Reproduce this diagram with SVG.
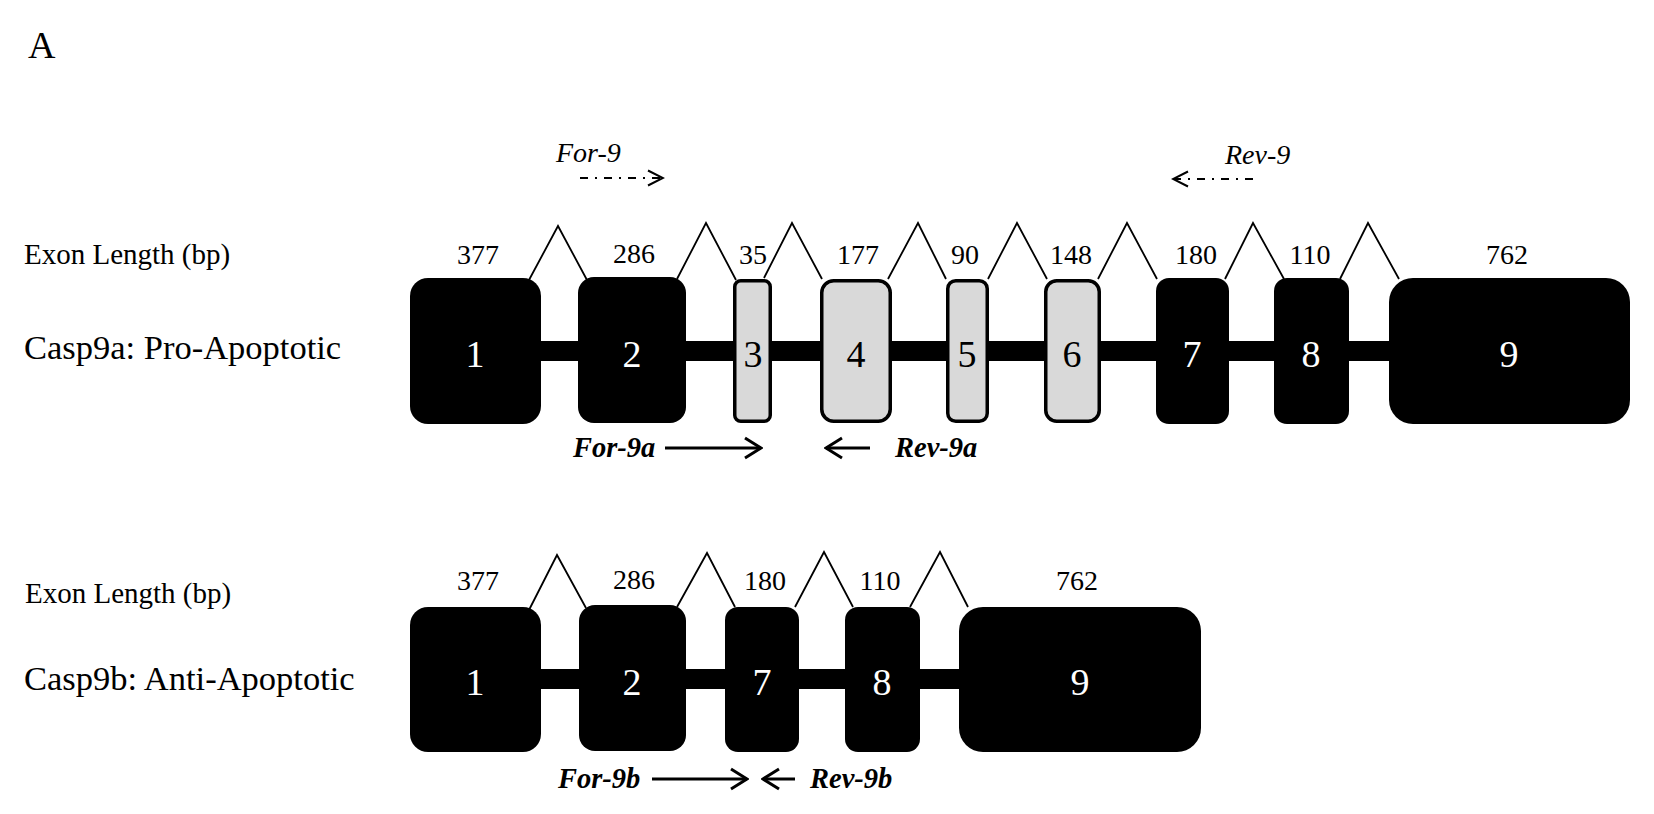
<svg xmlns="http://www.w3.org/2000/svg" width="1654" height="814" viewBox="0 0 1654 814">
<style>
text { font-family: "Liberation Serif", "Times New Roman", serif; fill: #000; }
.title { font-size: 38px; }
.rowlbl { font-size: 34.5px; }
.exlen { font-size: 29px; }
.len { font-size: 28px; text-anchor: middle; }
.num { font-size: 38px; text-anchor: middle; }
.w { fill: #fff; }
.ex { fill: #000; }
.gx { fill: #d9d9d9; stroke: #000; stroke-width: 3.5; }
.bar { fill: #000; }
.caret { fill: none; stroke: #000; stroke-width: 1.8; stroke-linejoin: miter; }
.pri { font-size: 28px; font-style: italic; }
.prb { font-size: 28.5px; font-style: italic; font-weight: bold; }
.solid { fill: none; stroke: #000; stroke-width: 3; }
.dashdot { fill: none; stroke: #000; stroke-width: 2; stroke-dasharray: 8 7 2 7; }
</style>
<defs>
<marker id="chevS" viewBox="0 0 20 24" refX="18" refY="12" markerWidth="20" markerHeight="24" markerUnits="userSpaceOnUse" orient="auto">
<path d="M2,2 L18,12 L2,22" fill="none" stroke="#000" stroke-width="3" stroke-dasharray="none"/>
</marker>
<marker id="chevD" viewBox="0 0 18 18" refX="16" refY="9" markerWidth="18" markerHeight="18" markerUnits="userSpaceOnUse" orient="auto">
<path d="M1,1.5 L16,9 L1,16.5" fill="none" stroke="#000" stroke-width="2" stroke-dasharray="none"/>
</marker>
</defs>
<rect width="1654" height="814" fill="#fff"/>
<text class="title" x="28" y="58">A</text>

<!-- Row 1 labels -->
<g id="row1-labels">
<text class="exlen" x="24" y="264">Exon Length (bp)</text>
<text class="rowlbl" x="24" y="359">Casp9a: Pro-Apoptotic</text>
<text class="len" x="478" y="264">377</text>
<text class="len" x="634" y="263">286</text>
<text class="len" x="753" y="264">35</text>
<text class="len" x="858" y="264">177</text>
<text class="len" x="965" y="264">90</text>
<text class="len" x="1071" y="264">148</text>
<text class="len" x="1196" y="264">180</text>
<text class="len" x="1310" y="264">110</text>
<text class="len" x="1507" y="264">762</text>
</g>

<!-- Connectors: introns, splice carets, primers -->
<g id="connectors">
<rect class="bar" x="530" y="341" width="870" height="20"/>
<rect class="bar" x="530" y="669" width="440" height="20"/>
<polyline class="caret" points="529,280 558,226 587,280"/>
<polyline class="caret" points="677,279 706,223 736,280"/>
<polyline class="caret" points="764,278 792,223 822,279"/>
<polyline class="caret" points="888,279 918,223 946,279"/>
<polyline class="caret" points="988,279 1017,223 1047,279"/>
<polyline class="caret" points="1098,279 1127,223 1157,279"/>
<polyline class="caret" points="1225,279 1253,223 1284,279"/>
<polyline class="caret" points="1340,279 1368,223 1399,279"/>
<polyline class="caret" points="529,610 557,555 586,608"/>
<polyline class="caret" points="677,607 707,553 735,607"/>
<polyline class="caret" points="795,607 824,552 853,607"/>
<polyline class="caret" points="910,607 940,552 968,607"/>
<line class="dashdot" x1="580" y1="178" x2="663" y2="178" marker-end="url(#chevD)"/>
<line class="dashdot" x1="1253" y1="179" x2="1173" y2="179" marker-end="url(#chevD)"/>
<line class="solid" x1="665" y1="448" x2="761" y2="448" marker-end="url(#chevS)"/>
<line class="solid" x1="870" y1="448" x2="826" y2="448" marker-end="url(#chevS)"/>
<line class="solid" x1="652" y1="779" x2="747" y2="779" marker-end="url(#chevS)"/>
<line class="solid" x1="795" y1="779" x2="763" y2="779" marker-end="url(#chevS)"/>
</g>

<g id="primers">
<text class="pri" x="556" y="162">For-9</text>
<text class="pri" x="1225" y="164">Rev-9</text>
<text class="prb" x="573" y="457">For-9a</text>
<text class="prb" x="895" y="457">Rev-9a</text>
<text class="prb" x="558" y="788">For-9b</text>
<text class="prb" x="810" y="788">Rev-9b</text>
</g>

<!-- Row 1 exons -->
<g id="a-ex1"><rect class="ex" x="410" y="278" width="131" height="146" rx="18"/><text class="num w" x="475" y="367">1</text></g>
<g id="a-ex2"><rect class="ex" x="578" y="277" width="108" height="146" rx="16"/><text class="num w" x="632" y="367">2</text></g>
<g id="a-ex3"><rect class="gx" x="734.75" y="280.75" width="35.5" height="140.5" rx="6"/><text class="num" x="753" y="367">3</text></g>
<g id="a-ex4"><rect class="gx" x="821.75" y="280.75" width="68.5" height="140.5" rx="12"/><text class="num" x="856" y="367">4</text></g>
<g id="a-ex5"><rect class="gx" x="947.75" y="280.75" width="39.5" height="140.5" rx="8"/><text class="num" x="967" y="367">5</text></g>
<g id="a-ex6"><rect class="gx" x="1045.75" y="280.75" width="53.5" height="140.5" rx="11"/><text class="num" x="1072" y="367">6</text></g>
<g id="a-ex7"><rect class="ex" x="1156" y="278" width="73" height="146" rx="13"/><text class="num w" x="1192" y="367">7</text></g>
<g id="a-ex8"><rect class="ex" x="1274" y="278" width="75" height="146" rx="13"/><text class="num w" x="1311" y="367">8</text></g>
<g id="a-ex9"><rect class="ex" x="1389" y="278" width="241" height="146" rx="24"/><text class="num w" x="1509" y="367">9</text></g>

<!-- Row 2 labels -->
<g id="row2-labels">
<text class="exlen" x="25" y="603">Exon Length (bp)</text>
<text class="rowlbl" x="24" y="690">Casp9b: Anti-Apoptotic</text>
<text class="len" x="478" y="590">377</text>
<text class="len" x="634" y="589">286</text>
<text class="len" x="765" y="590">180</text>
<text class="len" x="880" y="590">110</text>
<text class="len" x="1077" y="590">762</text>
</g>

<!-- Row 2 exons -->
<g id="b-ex1"><rect class="ex" x="410" y="607" width="131" height="145" rx="18"/><text class="num w" x="475" y="695">1</text></g>
<g id="b-ex2"><rect class="ex" x="579" y="605" width="107" height="146" rx="16"/><text class="num w" x="632" y="695">2</text></g>
<g id="b-ex7"><rect class="ex" x="725" y="607" width="74" height="145" rx="13"/><text class="num w" x="762" y="695">7</text></g>
<g id="b-ex8"><rect class="ex" x="845" y="607" width="75" height="145" rx="13"/><text class="num w" x="882" y="695">8</text></g>
<g id="b-ex9"><rect class="ex" x="959" y="607" width="242" height="145" rx="24"/><text class="num w" x="1080" y="695">9</text></g>
</svg>
